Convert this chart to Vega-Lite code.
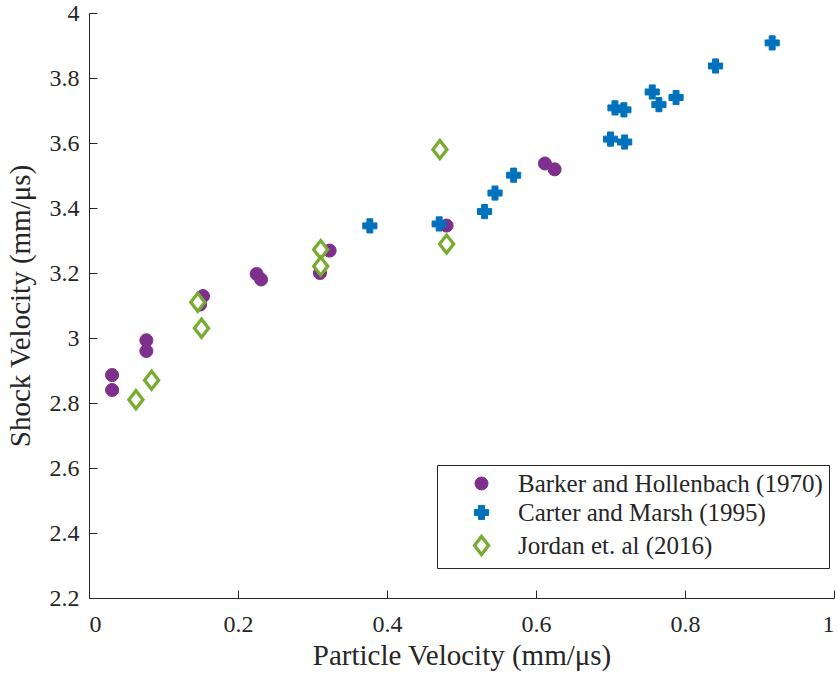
{
  "$schema": "https://vega.github.io/schema/vega-lite/v6.json",
  "autosize": {"type": "none"},
  "width": 745,
  "height": 585,
  "padding": {"left": 89, "top": 13, "right": 4, "bottom": 83},
  "background": "white",
  "config": {
    "view": {"stroke": null},
    "font": "Liberation Serif",
    "axis": {"labelFont": "Liberation Serif", "titleFont": "Liberation Serif"},
    "legend": {"labelFont": "Liberation Serif"}
  },
  "data": {
    "values": [
      {"series": "Barker and Hollenbach (1970)", "up": 0.031, "us": 2.886},
      {"series": "Barker and Hollenbach (1970)", "up": 0.031, "us": 2.840},
      {"series": "Barker and Hollenbach (1970)", "up": 0.077, "us": 2.993},
      {"series": "Barker and Hollenbach (1970)", "up": 0.077, "us": 2.960},
      {"series": "Barker and Hollenbach (1970)", "up": 0.153, "us": 3.129},
      {"series": "Barker and Hollenbach (1970)", "up": 0.149, "us": 3.103},
      {"series": "Barker and Hollenbach (1970)", "up": 0.225, "us": 3.197},
      {"series": "Barker and Hollenbach (1970)", "up": 0.231, "us": 3.180},
      {"series": "Barker and Hollenbach (1970)", "up": 0.310, "us": 3.200},
      {"series": "Barker and Hollenbach (1970)", "up": 0.323, "us": 3.269},
      {"series": "Barker and Hollenbach (1970)", "up": 0.480, "us": 3.346},
      {"series": "Barker and Hollenbach (1970)", "up": 0.612, "us": 3.537},
      {"series": "Barker and Hollenbach (1970)", "up": 0.625, "us": 3.519},
      {"series": "Carter and Marsh (1995)", "up": 0.377, "us": 3.345},
      {"series": "Carter and Marsh (1995)", "up": 0.470, "us": 3.351},
      {"series": "Carter and Marsh (1995)", "up": 0.531, "us": 3.389},
      {"series": "Carter and Marsh (1995)", "up": 0.545, "us": 3.446},
      {"series": "Carter and Marsh (1995)", "up": 0.570, "us": 3.501},
      {"series": "Carter and Marsh (1995)", "up": 0.700, "us": 3.612},
      {"series": "Carter and Marsh (1995)", "up": 0.719, "us": 3.603},
      {"series": "Carter and Marsh (1995)", "up": 0.706, "us": 3.708},
      {"series": "Carter and Marsh (1995)", "up": 0.718, "us": 3.702},
      {"series": "Carter and Marsh (1995)", "up": 0.756, "us": 3.757},
      {"series": "Carter and Marsh (1995)", "up": 0.765, "us": 3.718},
      {"series": "Carter and Marsh (1995)", "up": 0.788, "us": 3.740},
      {"series": "Carter and Marsh (1995)", "up": 0.841, "us": 3.837},
      {"series": "Carter and Marsh (1995)", "up": 0.917, "us": 3.908},
      {"series": "Jordan et. al (2016)", "up": 0.063, "us": 2.810},
      {"series": "Jordan et. al (2016)", "up": 0.084, "us": 2.870},
      {"series": "Jordan et. al (2016)", "up": 0.146, "us": 3.110},
      {"series": "Jordan et. al (2016)", "up": 0.151, "us": 3.030},
      {"series": "Jordan et. al (2016)", "up": 0.311, "us": 3.272},
      {"series": "Jordan et. al (2016)", "up": 0.311, "us": 3.221},
      {"series": "Jordan et. al (2016)", "up": 0.471, "us": 3.580},
      {"series": "Jordan et. al (2016)", "up": 0.480, "us": 3.289}
    ]
  },
  "mark": {"type": "point", "opacity": 1, "filled": false},
  "encoding": {
    "x": {
      "field": "up", "type": "quantitative",
      "scale": {"domain": [0, 1], "nice": false, "zero": false},
      "axis": {
        "values": [0, 0.2, 0.4, 0.6, 0.8, 1], "format": "~f",
        "title": "Particle Velocity (mm/μs)",
        "grid": false,
        "domainColor": "#262626", "domainWidth": 1,
        "tickColor": "#262626", "tickWidth": 1, "tickSize": -8,
        "labelFont": "Liberation Serif", "labelFontSize": 24, "labelColor": "#262626",
        "labelPadding": 22,
        "titleFont": "Liberation Serif", "titleFontSize": 29, "titleFontWeight": "normal", "titleColor": "#262626",
        "titlePadding": 5
      }
    },
    "y": {
      "field": "us", "type": "quantitative",
      "scale": {"domain": [2.2, 4], "nice": false, "zero": false},
      "axis": {
        "values": [2.2, 2.4, 2.6, 2.8, 3, 3.2, 3.4, 3.6, 3.8, 4], "format": "~f",
        "title": "Shock Velocity (mm/μs)",
        "grid": false,
        "domainColor": "#262626", "domainWidth": 1,
        "tickColor": "#262626", "tickWidth": 1, "tickSize": -8,
        "labelFont": "Liberation Serif", "labelFontSize": 24, "labelColor": "#262626",
        "labelPadding": 18,
        "titleFont": "Liberation Serif", "titleFontSize": 29, "titleFontWeight": "normal", "titleColor": "#262626",
        "titlePadding": 14
      }
    },
    "shape": {
      "field": "series", "type": "nominal",
      "scale": {
        "domain": ["Barker and Hollenbach (1970)", "Carter and Marsh (1995)", "Jordan et. al (2016)"],
        "range": ["circle", "M-0.42,-1L0.42,-1L0.42,-0.42L1,-0.42L1,0.42L0.42,0.42L0.42,1L-0.42,1L-0.42,0.42L-1,0.42L-1,-0.42L-0.42,-0.42Z", "M-0.78,0L0,-1L0.78,0L0,1Z"]
      },
      "legend": {
        "title": null,
        "orient": "none",
        "legendX": 348,
        "legendY": 452,
        "strokeColor": "#262626",
        "fillColor": "white",
        "padding": 6,
        "rowPadding": 3,
        "symbolOffset": 26,
        "labelOffset": 24,
        "labelLimit": 500,
        "labelFont": "Liberation Serif",
        "labelFontSize": 25,
        "labelColor": "#262626"
      }
    },
    "fill": {
      "field": "series", "type": "nominal",
      "scale": {
        "domain": ["Barker and Hollenbach (1970)", "Carter and Marsh (1995)", "Jordan et. al (2016)"],
        "range": ["#7E2F8E", "#0072BD", "#FFFFFF"]
      }
    },
    "stroke": {
      "field": "series", "type": "nominal",
      "scale": {
        "domain": ["Barker and Hollenbach (1970)", "Carter and Marsh (1995)", "Jordan et. al (2016)"],
        "range": ["#7E2F8E", "#0072BD", "#77AC30"]
      }
    },
    "size": {
      "field": "series", "type": "nominal",
      "scale": {
        "type": "ordinal",
        "domain": ["Barker and Hollenbach (1970)", "Carter and Marsh (1995)", "Jordan et. al (2016)"],
        "range": [170, 200, 324]
      }
    },
    "strokeWidth": {
      "field": "series", "type": "nominal",
      "scale": {
        "type": "ordinal",
        "domain": ["Barker and Hollenbach (1970)", "Carter and Marsh (1995)", "Jordan et. al (2016)"],
        "range": [1, 1, 3.3]
      }
    }
  }
}
